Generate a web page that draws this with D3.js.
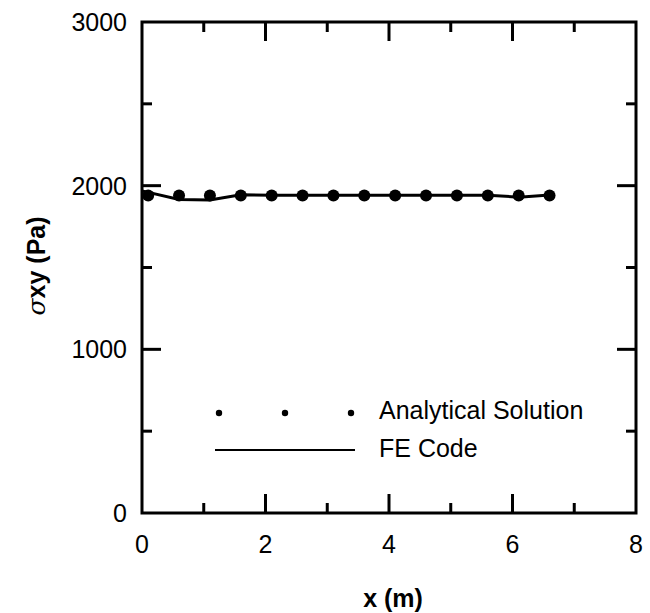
<!DOCTYPE html>
<html><head><meta charset="utf-8">
<script src="https://cdn.jsdelivr.net/npm/d3@7"></script>
<style>body{margin:0;background:#fff}svg{display:block}text{font-family:"Liberation Sans",Arial,sans-serif;fill:#000}</style>
</head><body><svg id="c" width="650" height="613"></svg>
<script>
const analyticalX = [0.1,0.6,1.1,1.6,2.1,2.6,3.1,3.6,4.1,4.6,5.1,5.6,6.1,6.6];
const analyticalY = [1940,1940,1940,1940,1940,1940,1940,1940,1940,1940,1940,1940,1940,1940];
const feX = [0,0.6,1.1,1.6,2.1,2.6,3.1,3.6,4.1,4.6,5.1,5.6,6.1,6.6];
const feY = [1968,1916,1912,1944,1941,1941,1941,1941,1941,1941,1941,1941,1930,1943];
const xTicks = [0,2,4,6,8];
const xMinor = [1,3,5,7];
const yTicks = [0,1000,2000,3000];
const yMinor = [500,1500,2500];
const legendLabels = ["Analytical Solution","FE Code"];

const svg = d3.select("#c");
const L=142,R=636,T=22,B=513;
const x = d3.scaleLinear().domain([0,8]).range([L,R]);
const y = d3.scaleLinear().domain([0,3000]).range([B,T]);
const g = svg.append("g");

const tk = g.append("g").attr("stroke","#000").attr("stroke-width",3);
xTicks.forEach(v=>{ if(v>0&&v<8){ tk.append("line").attr("x1",x(v)).attr("x2",x(v)).attr("y1",B).attr("y2",B-19);
  tk.append("line").attr("x1",x(v)).attr("x2",x(v)).attr("y1",T).attr("y2",T+19);} });
xMinor.forEach(v=>{ tk.append("line").attr("x1",x(v)).attr("x2",x(v)).attr("y1",B).attr("y2",B-10);
  tk.append("line").attr("x1",x(v)).attr("x2",x(v)).attr("y1",T).attr("y2",T+10); });
yTicks.forEach(v=>{ if(v>0&&v<3000){ tk.append("line").attr("y1",y(v)).attr("y2",y(v)).attr("x1",L).attr("x2",L+19);
  tk.append("line").attr("y1",y(v)).attr("y2",y(v)).attr("x1",R).attr("x2",R-19);} });
yMinor.forEach(v=>{ tk.append("line").attr("y1",y(v)).attr("y2",y(v)).attr("x1",L).attr("x2",L+10);
  tk.append("line").attr("y1",y(v)).attr("y2",y(v)).attr("x1",R).attr("x2",R-10); });
g.append("rect").attr("x",L).attr("y",T).attr("width",R-L).attr("height",B-T)
  .attr("fill","none").attr("stroke","#000").attr("stroke-width",3);

xTicks.forEach(v=>g.append("text").attr("x",x(v)).attr("y",553).attr("text-anchor","middle")
  .attr("font-size",25).text(v));
yTicks.forEach(v=>g.append("text").attr("x",127).attr("y",y(v)+9).attr("text-anchor","end")
  .attr("font-size",25).text(v));

g.append("text").attr("x",393).attr("y",607).attr("text-anchor","middle").attr("font-size",25)
  .attr("font-weight","bold").text("x (m)");
const yt = g.append("text").attr("transform","translate(45,266) rotate(-90)").attr("text-anchor","middle").attr("font-size",25);
yt.append("tspan").attr("font-family","DejaVu Serif").attr("font-style","italic").attr("font-weight","normal").text("σ");
yt.append("tspan").attr("font-weight","bold").text("xy (Pa)");

const line = d3.line().x((d,i)=>x(feX[i])).y(d=>y(d));
g.append("path").datum(feY).attr("d",line).attr("fill","none").attr("stroke","#000").attr("stroke-width",3);

g.selectAll("circle.a").data(analyticalY).join("circle").attr("class","a")
  .attr("cx",(d,i)=>x(analyticalX[i])).attr("cy",d=>y(d)).attr("r",6).attr("fill","#000");

[219,285,351].forEach(px=>g.append("circle").attr("cx",px).attr("cy",413).attr("r",3.2).attr("fill","#000"));
g.append("line").attr("x1",215).attr("x2",355).attr("y1",450).attr("y2",450).attr("stroke","#000").attr("stroke-width",2);
g.append("text").attr("x",379).attr("y",419).attr("font-size",25).text(legendLabels[0]);
g.append("text").attr("x",379).attr("y",457).attr("font-size",25).text(legendLabels[1]);
</script></body></html>
